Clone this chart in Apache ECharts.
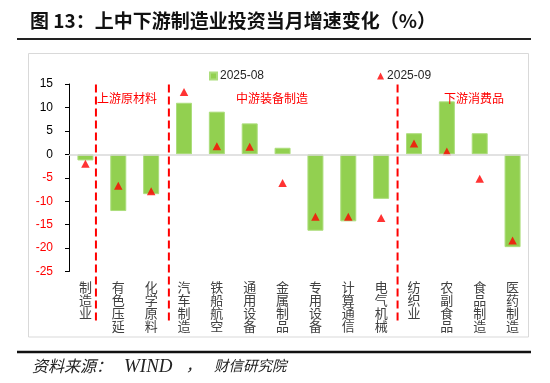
<!DOCTYPE html>
<html>
<head>
<meta charset="utf-8">
<script src="https://cdn.jsdelivr.net/npm/echarts@6/dist/echarts.min.js"></script>
<style>
html,body{margin:0;padding:0;background:#fff;}
#c{width:550px;height:383px;}
</style>
</head>
<body>
<div id="c"></div>
<script>
var categories = ['制造业','有色压延','化学原料','汽车制造','铁船航空','通用设备','金属制品','专用设备','计算通信','电气机械','纺织业','农副食品','食品制造','医药制造'];
var aug2025 = [-1.3,-12.1,-8.5,11.0,9.1,6.6,1.4,-16.3,-14.3,-9.5,4.5,11.3,4.5,-19.8];
var sep2025 = [-2.0,-6.7,-7.9,13.3,1.7,1.6,-6.1,-13.3,-13.3,-13.6,2.3,0.6,-5.2,-18.4];
var seriesNames = ['2025-08','2025-09'];
var yTicks = {min:-25, max:15, interval:5};
// divider positions in category units (0 = left edge of first category)
var dividers = [0.82, 3.04, 10.0];
var groupLabels = [
  {text:'上游原材料', x:97},
  {text:'中游装备制造', x:236},
  {text:'下游消费品', x:444}
];

var chart = echarts.init(document.getElementById('c'), null, {renderer:'canvas'});
var CJK = '"Noto Sans CJK SC", "Noto Sans", sans-serif';

var option = {
  animation:false,
  backgroundColor:'#fff',
  legend:{
    left:204, top:65,
    itemWidth:7, itemHeight:7, itemGap:113,
    textStyle:{fontSize:12, color:'#262626', fontFamily:'"Liberation Sans", Arial, sans-serif', padding:[0,0,0,-2]},
    data:[{name:seriesNames[0], icon:'rect'},{name:seriesNames[1], icon:'triangle'}]
  },
  grid:{left:69, right:21, top:84, bottom:111.5, containLabel:false},
  xAxis:{
    type:'category',
    data:categories,
    axisLine:{show:false, onZero:false},
    axisTick:{show:false},
    axisLabel:{
      interval:0, margin:9,
      fontSize:13, lineHeight:13, color:'#404040', fontFamily:CJK,
      formatter:function(v){return v.split('').join('\n');},
      verticalAlign:'top'
    },
    splitLine:{show:false}
  },
  yAxis:{
    type:'value',
    min:yTicks.min, max:yTicks.max, interval:yTicks.interval,
    axisLine:{show:true, lineStyle:{color:'#000', width:1}},
    axisTick:{show:true, length:4, inside:false, lineStyle:{color:'#000'}},
    axisLabel:{
      margin:16, fontSize:12, fontFamily:'"Liberation Sans", Arial, sans-serif',
      color:function(v){return Number(v) < 0 ? '#FF0000' : '#000';}
    },
    splitLine:{show:false}
  },
  series:[
    {
      name:seriesNames[0], type:'bar', data:aug2025, barWidth:16,
      itemStyle:{color:'#92D050', borderColor:'#ACDD7C', borderWidth:1},
      markLine:{
        silent:true, symbol:['none','none'], label:{show:false},
        lineStyle:{color:'#D9D9D9', width:1.5, type:'solid'},
        data:[{yAxis:0}]
      },
      z:2
    },
    {
      name:seriesNames[1], type:'scatter', data:sep2025,
      symbol:'triangle', symbolSize:[8.5,8],
      itemStyle:{color:'#FF0000'}, z:3
    }
  ],
  graphic:[]
};
chart.setOption(option);

function build(){
  var c0 = chart.convertToPixel({xAxisIndex:0}, 0);
  var c1 = chart.convertToPixel({xAxisIndex:0}, 1);
  var bw = c1 - c0;
  var yTop = chart.convertToPixel({yAxisIndex:0}, 14.9);
  var yBot = chart.convertToPixel({yAxisIndex:0}, yTicks.min) + 51;
  var g = [];
  // chart area border
  g.push({type:'rect', shape:{x:28.5, y:53.5, width:500, height:283.5}, style:{fill:'none', stroke:'#D9D9D9', lineWidth:1}, z:0, silent:true});
  // title
  g.push({type:'text', left:30, top:11, style:{text:'图 13：上中下游制造业投资当月增速变化（%）', font:'bold 19px '+CJK, fill:'#111'}, z:10});
  // title underline
  g.push({type:'line', shape:{x1:17, y1:39, x2:531, y2:39}, style:{stroke:'#222', lineWidth:2.2}, z:10});
  // bottom rule
  g.push({type:'line', shape:{x1:17, y1:352, x2:531, y2:352}, style:{stroke:'#111', lineWidth:2.6}, z:10});
  // source
  g.push({type:'text', left:32, top:358, style:{text:'资料来源：', font:'italic 16px '+CJK, fill:'#222'}, z:10});
  g.push({type:'text', left:124, top:357, style:{text:'WIND', font:'italic 19px "Liberation Serif", serif', fill:'#222'}, z:10});
  g.push({type:'text', left:186, top:358, style:{text:'，', font:'italic 15px '+CJK, fill:'#222'}, z:10});
  g.push({type:'text', left:214, top:358, style:{text:'财信研究院', font:'italic 14.5px '+CJK, fill:'#222'}, z:10});
  // dividers
  dividers.forEach(function(u){
    var x = c0 + (u - 0.5) * bw;
    g.push({type:'line', shape:{x1:x, y1:yTop, x2:x, y2:yBot}, style:{stroke:'#FF0000', lineWidth:2, lineDash:[8,4]}, z:5, silent:true});
  });
  // group labels
  groupLabels.forEach(function(l){
    g.push({type:'text', left:l.x, top:92, style:{text:l.text, font:'12px '+CJK, fill:'#FF0000'}, z:6});
  });
  chart.setOption({graphic:g});
}
build();
</script>
</body>
</html>
